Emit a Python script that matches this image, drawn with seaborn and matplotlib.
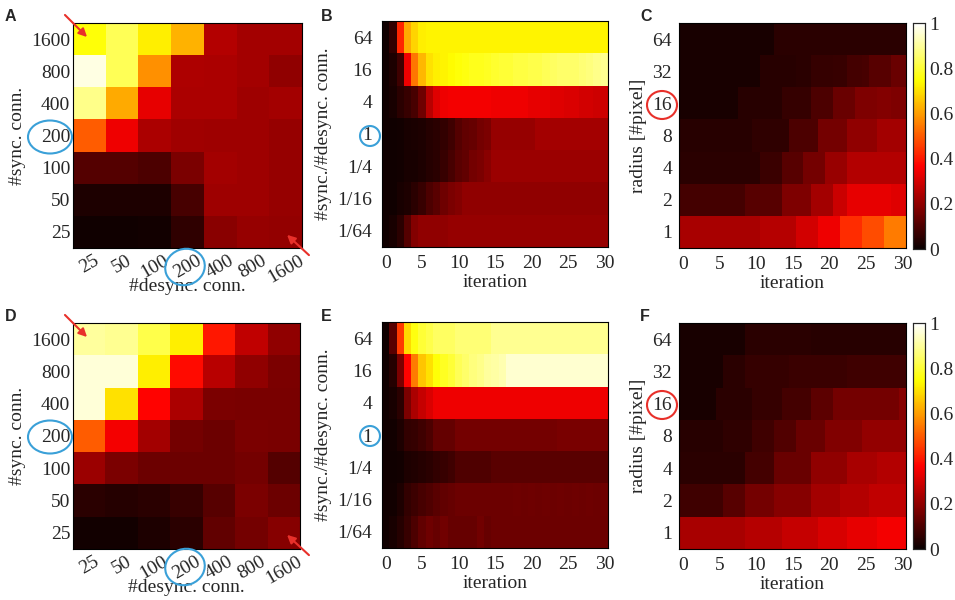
import numpy as np
import matplotlib
matplotlib.use('Agg')
import matplotlib.pyplot as plt
import seaborn as sns
from matplotlib.patches import Ellipse

sns.set_style('white')
plt.rcParams['font.family'] = ['Liberation Serif', 'DejaVu Serif']

# category labels
sync_conn = ['1600', '800', '400', '200', '100', '50', '25']
desync_conn = ['25', '50', '100', '200', '400', '800', '1600']
ratio_labels = ['64', '16', '4', '1', '1/4', '1/16', '1/64']
radius_labels = ['64', '32', '16', '8', '4', '2', '1']
iter_ticks = [0, 5, 10, 15, 20, 25, 30]

# panel A (rows: #sync 1600 -> 25, cols: #desync 25 -> 1600)
grid_a = [
    [0.75, 0.83, 0.72, 0.63, 0.25, 0.23, 0.23],
    [0.97, 0.83, 0.58, 0.245, 0.24, 0.23, 0.20],
    [0.88, 0.62, 0.33, 0.24, 0.24, 0.22, 0.23],
    [0.50, 0.34, 0.24, 0.225, 0.22, 0.22, 0.21],
    [0.11, 0.11, 0.10, 0.17, 0.23, 0.22, 0.21],
    [0.03, 0.03, 0.03, 0.09, 0.22, 0.22, 0.21],
    [0.01, 0.01, 0.015, 0.055, 0.19, 0.21, 0.205],
]

# panel D
grid_d = [
    [0.90, 0.89, 0.82, 0.72, 0.40, 0.27, 0.20],
    [0.96, 0.96, 0.72, 0.38, 0.26, 0.20, 0.17],
    [0.96, 0.70, 0.37, 0.24, 0.17, 0.165, 0.165],
    [0.50, 0.35, 0.23, 0.16, 0.145, 0.17, 0.165],
    [0.215, 0.17, 0.145, 0.145, 0.145, 0.16, 0.11],
    [0.05, 0.04, 0.05, 0.07, 0.115, 0.17, 0.145],
    [0.015, 0.015, 0.03, 0.05, 0.13, 0.16, 0.185],
]

# panel B (rows: ratio 64 -> 1/64, cols: iteration 0 -> 30)
b_64 = [0.01, 0.06, 0.42, 0.62, 0.68, 0.72, 0.73, 0.73, 0.73, 0.73, 0.73,
        0.73, 0.73, 0.73, 0.73, 0.73, 0.73, 0.73, 0.73, 0.73, 0.73,
        0.73, 0.73, 0.73, 0.73, 0.73, 0.73, 0.73, 0.73, 0.73, 0.73]
b_16 = [0.01, 0.03, 0.08, 0.34, 0.54, 0.64, 0.70, 0.72, 0.73, 0.74, 0.75,
        0.76, 0.77, 0.77, 0.78, 0.79, 0.80, 0.80, 0.81, 0.81, 0.82,
        0.82, 0.83, 0.84, 0.85, 0.85, 0.85, 0.86, 0.87, 0.88, 0.89]
b_4 = [0.01, 0.02, 0.05, 0.07, 0.09, 0.15, 0.26, 0.32, 0.34, 0.35, 0.35,
       0.35, 0.35, 0.35, 0.35, 0.34, 0.34, 0.34, 0.34, 0.34, 0.33,
       0.33, 0.33, 0.32, 0.32, 0.31, 0.31, 0.30, 0.30, 0.29, 0.29]
b_1 = [0.01, 0.01, 0.015, 0.02, 0.025, 0.03, 0.04, 0.05, 0.06, 0.08, 0.11,
       0.13, 0.14, 0.16, 0.17, 0.21, 0.21, 0.21, 0.21, 0.21, 0.21,
       0.23, 0.23, 0.23, 0.23, 0.23, 0.23, 0.23, 0.23, 0.23, 0.23]
b_q4 = [0.01, 0.01, 0.015, 0.02, 0.02, 0.03, 0.04, 0.05, 0.07, 0.09, 0.12,
        0.13, 0.16, 0.17, 0.19, 0.215, 0.215, 0.215, 0.215, 0.215, 0.215,
        0.215, 0.215, 0.215, 0.215, 0.215, 0.215, 0.215, 0.215, 0.215, 0.215]
b_q16 = [0.01, 0.01, 0.02, 0.03, 0.05, 0.07, 0.10, 0.12, 0.15, 0.17, 0.18,
         0.20, 0.20, 0.20, 0.20, 0.20, 0.20, 0.20, 0.20, 0.20, 0.20,
         0.20, 0.20, 0.20, 0.20, 0.20, 0.20, 0.20, 0.20, 0.20, 0.20]
b_q64 = [0.01, 0.02, 0.05, 0.11, 0.18, 0.20, 0.20, 0.20, 0.20, 0.21, 0.21,
         0.21, 0.21, 0.21, 0.21, 0.21, 0.21, 0.21, 0.21, 0.21, 0.21,
         0.21, 0.21, 0.21, 0.21, 0.21, 0.21, 0.21, 0.21, 0.21, 0.21]

# panel E
e_64 = [0.01, 0.12, 0.45, 0.69, 0.76, 0.80, 0.82, 0.84, 0.84, 0.84, 0.86,
        0.86, 0.86, 0.86, 0.86, 0.89, 0.89, 0.89, 0.89, 0.89, 0.89,
        0.89, 0.89, 0.89, 0.89, 0.89, 0.89, 0.89, 0.89, 0.89, 0.89]
e_16 = [0.01, 0.04, 0.17, 0.37, 0.55, 0.66, 0.70, 0.75, 0.78, 0.80, 0.83,
        0.85, 0.87, 0.88, 0.90, 0.91, 0.92, 0.95, 0.95, 0.95, 0.95,
        0.95, 0.95, 0.95, 0.95, 0.95, 0.95, 0.95, 0.95, 0.95, 0.95]
e_4 = [0.01, 0.02, 0.05, 0.17, 0.24, 0.28, 0.31, 0.34, 0.34, 0.34, 0.34,
       0.34, 0.34, 0.34, 0.34, 0.34, 0.34, 0.34, 0.34, 0.34, 0.34,
       0.34, 0.34, 0.34, 0.34, 0.34, 0.34, 0.34, 0.34, 0.34, 0.34]
e_1 = [0.01, 0.015, 0.03, 0.06, 0.065, 0.08, 0.10, 0.135, 0.135, 0.135, 0.16,
       0.16, 0.16, 0.16, 0.16, 0.16, 0.16, 0.16, 0.16, 0.16, 0.16,
       0.16, 0.16, 0.16, 0.165, 0.165, 0.165, 0.165, 0.165, 0.165, 0.165]
e_q4 = [0.01, 0.01, 0.015, 0.03, 0.035, 0.04, 0.05, 0.06, 0.07, 0.08, 0.105,
        0.105, 0.105, 0.105, 0.105, 0.12, 0.12, 0.12, 0.12, 0.12, 0.12,
        0.12, 0.12, 0.12, 0.12, 0.12, 0.12, 0.12, 0.12, 0.12, 0.12]
e_q16 = [0.01, 0.015, 0.03, 0.06, 0.075, 0.09, 0.105, 0.12, 0.13, 0.14, 0.145,
         0.145, 0.145, 0.145, 0.145, 0.145, 0.145, 0.145, 0.15, 0.145, 0.15,
         0.145, 0.15, 0.145, 0.15, 0.145, 0.15, 0.145, 0.15, 0.145, 0.15]
e_q64 = [0.01, 0.02, 0.04, 0.07, 0.10, 0.13, 0.15, 0.14, 0.155, 0.14, 0.14,
         0.14, 0.14, 0.155, 0.14, 0.145, 0.145, 0.145, 0.145, 0.145, 0.145,
         0.145, 0.145, 0.145, 0.145, 0.145, 0.145, 0.145, 0.145, 0.145, 0.145]

# panel C (rows: radius 64 -> 1)
c_64 = [0.02, 0.02, 0.02, 0.02, 0.02, 0.02, 0.02, 0.02, 0.02, 0.02, 0.02,
        0.02, 0.02, 0.05, 0.05, 0.05, 0.05, 0.05, 0.05, 0.05, 0.05,
        0.05, 0.05, 0.05, 0.05, 0.05, 0.05, 0.05, 0.05, 0.05, 0.05]
c_32 = [0.02, 0.02, 0.02, 0.02, 0.02, 0.02, 0.02, 0.02, 0.02, 0.02, 0.02,
        0.043, 0.043, 0.043, 0.043, 0.043, 0.05, 0.05, 0.064, 0.064, 0.064,
        0.07, 0.07, 0.086, 0.086, 0.09, 0.114, 0.114, 0.114, 0.143, 0.143]
c_16 = [0.02, 0.02, 0.02, 0.02, 0.02, 0.02, 0.02, 0.02, 0.043, 0.043, 0.043,
        0.043, 0.043, 0.043, 0.064, 0.064, 0.064, 0.064, 0.10, 0.10, 0.10,
        0.143, 0.143, 0.143, 0.175, 0.175, 0.175, 0.18, 0.18, 0.175, 0.175]
c_8 = [0.043, 0.043, 0.043, 0.043, 0.043, 0.043, 0.043, 0.043, 0.043, 0.043, 0.057,
       0.057, 0.057, 0.057, 0.057, 0.10, 0.10, 0.10, 0.10, 0.157, 0.157,
       0.157, 0.157, 0.20, 0.20, 0.20, 0.20, 0.229, 0.229, 0.229, 0.229]
c_4 = [0.05, 0.05, 0.05, 0.05, 0.05, 0.05, 0.05, 0.05, 0.05, 0.05, 0.05,
       0.072, 0.072, 0.072, 0.114, 0.114, 0.114, 0.157, 0.157, 0.157, 0.214,
       0.214, 0.214, 0.25, 0.25, 0.25, 0.25, 0.25, 0.25, 0.25, 0.25]
c_2 = [0.086, 0.086, 0.086, 0.086, 0.086, 0.086, 0.086, 0.086, 0.086, 0.114, 0.114,
       0.114, 0.114, 0.114, 0.172, 0.172, 0.172, 0.172, 0.229, 0.229, 0.229,
       0.286, 0.286, 0.33, 0.33, 0.33, 0.33, 0.33, 0.33, 0.32, 0.32]
c_1 = [0.236, 0.236, 0.236, 0.236, 0.236, 0.236, 0.236, 0.236, 0.236, 0.236, 0.236,
       0.257, 0.257, 0.257, 0.257, 0.257, 0.30, 0.30, 0.30, 0.34, 0.34,
       0.34, 0.43, 0.43, 0.43, 0.48, 0.48, 0.48, 0.55, 0.55, 0.55]

# panel F
f_64 = [0.02, 0.02, 0.02, 0.02, 0.02, 0.02, 0.02, 0.02, 0.02, 0.05, 0.05,
        0.05, 0.05, 0.05, 0.05, 0.05, 0.05, 0.05, 0.043, 0.043, 0.043,
        0.043, 0.043, 0.043, 0.043, 0.043, 0.043, 0.043, 0.043, 0.043, 0.043]
f_32 = [0.02, 0.02, 0.02, 0.02, 0.02, 0.02, 0.05, 0.05, 0.05, 0.064, 0.064,
        0.064, 0.064, 0.064, 0.064, 0.072, 0.072, 0.072, 0.072, 0.072, 0.072,
        0.072, 0.072, 0.079, 0.079, 0.079, 0.079, 0.079, 0.079, 0.079, 0.079]
f_16 = [0.02, 0.02, 0.02, 0.02, 0.02, 0.05, 0.05, 0.05, 0.05, 0.05, 0.064,
        0.064, 0.064, 0.064, 0.086, 0.086, 0.086, 0.086, 0.122, 0.122, 0.122,
        0.157, 0.157, 0.157, 0.157, 0.157, 0.157, 0.157, 0.157, 0.157, 0.186]
f_8 = [0.043, 0.043, 0.043, 0.043, 0.043, 0.043, 0.057, 0.057, 0.057, 0.057, 0.079,
       0.079, 0.079, 0.107, 0.107, 0.107, 0.143, 0.143, 0.143, 0.143, 0.179,
       0.179, 0.179, 0.179, 0.179, 0.207, 0.207, 0.207, 0.207, 0.207, 0.207]
f_4 = [0.05, 0.05, 0.05, 0.05, 0.05, 0.05, 0.05, 0.05, 0.05, 0.086, 0.086,
       0.086, 0.086, 0.143, 0.143, 0.143, 0.143, 0.143, 0.20, 0.20, 0.20,
       0.20, 0.20, 0.236, 0.236, 0.236, 0.236, 0.25, 0.25, 0.25, 0.25]
f_2 = [0.079, 0.079, 0.079, 0.079, 0.079, 0.079, 0.114, 0.114, 0.114, 0.157, 0.157,
       0.157, 0.157, 0.186, 0.186, 0.186, 0.186, 0.186, 0.229, 0.229, 0.229,
       0.229, 0.25, 0.25, 0.25, 0.25, 0.272, 0.272, 0.272, 0.272, 0.272]
f_1 = [0.236, 0.236, 0.236, 0.236, 0.236, 0.236, 0.236, 0.236, 0.236, 0.257, 0.257,
       0.257, 0.257, 0.257, 0.279, 0.279, 0.279, 0.279, 0.279, 0.307, 0.307,
       0.307, 0.307, 0.33, 0.33, 0.33, 0.33, 0.35, 0.35, 0.35, 0.35]

grid_b = [b_64, b_16, b_4, b_1, b_q4, b_q16, b_q64]
grid_e = [e_64, e_16, e_4, e_1, e_q4, e_q16, e_q64]
grid_c = [c_64, c_32, c_16, c_8, c_4, c_2, c_1]
grid_f = [f_64, f_32, f_16, f_8, f_4, f_2, f_1]

W, H = 955, 600
fig = plt.figure(figsize=(9.55, 6.0), dpi=100)


def box(x0, y0, x1, y1):
    """pixel box -> figure fraction"""
    return [x0 / W, 1 - y1 / H, (x1 - x0) / W, (y1 - y0) / H]


FS = 14


def style_axes(ax, ypad):
    for sp in ax.spines.values():
        sp.set_visible(True)
        sp.set_color('black')
        sp.set_linewidth(0.8)
    ax.tick_params(direction='in', length=3, width=0.6, top=True, right=True,
                   labelsize=FS)
    ax.tick_params(axis='x', pad=6)
    ax.tick_params(axis='y', pad=ypad)


def draw_square(ax, data, ylab):
    sns.heatmap(np.array(data), ax=ax, cmap='hot', vmin=0, vmax=1, cbar=False,
                xticklabels=False, yticklabels=False)
    style_axes(ax, 2)
    ax.set_xticks(np.arange(len(desync_conn)) + 0.5)
    ax.set_xticklabels(desync_conn, rotation=30, ha='center', va='top')
    ax.tick_params(axis='x', pad=3)
    ax.set_yticks(np.arange(len(ylab)) + 0.5)
    ax.set_yticklabels(ylab, rotation=0)
    ax.set_xlabel('#desync. conn.', fontsize=FS, labelpad=-6)
    ax.set_ylabel('#sync. conn.', fontsize=FS, labelpad=4)


def draw_iter(ax, data, ylab, ylabel, ypad, cax=None):
    sns.heatmap(np.array(data), ax=ax, cmap='hot', vmin=0, vmax=1,
                cbar=cax is not None, cbar_ax=cax,
                xticklabels=False, yticklabels=False)
    style_axes(ax, ypad)
    ax.set_xticks(np.array(iter_ticks) + 0.5)
    ax.set_xticklabels([str(t) for t in iter_ticks], rotation=0)
    ax.set_yticks(np.arange(len(ylab)) + 0.5)
    ax.set_yticklabels(ylab, rotation=0)
    ax.set_xlabel('iteration', fontsize=FS, labelpad=1)
    ax.set_ylabel(ylabel, fontsize=FS, labelpad=4)
    if cax is not None:
        cax.set_yticks([0, 0.2, 0.4, 0.6, 0.8, 1.0])
        cax.set_yticklabels(['0', '0.2', '0.4', '0.6', '0.8', '1'])
        cax.tick_params(direction='in', length=3, width=0.6, labelsize=FS,
                        left=True, right=True, pad=3)
        for sp in cax.spines.values():
            sp.set_visible(True)
            sp.set_linewidth(0.8)


ax_a = fig.add_axes(box(73, 23, 302, 248))
ax_b = fig.add_axes(box(382, 21, 608, 247))
ax_c = fig.add_axes(box(679, 23, 906, 248))
cax_c = fig.add_axes(box(913, 23, 925, 249))
ax_d = fig.add_axes(box(73, 323, 300, 549))
ax_e = fig.add_axes(box(382, 322, 608, 548))
ax_f = fig.add_axes(box(679, 323, 906, 549))
cax_f = fig.add_axes(box(913, 323, 925, 549))

draw_square(ax_a, grid_a, sync_conn)
draw_square(ax_d, grid_d, sync_conn)
draw_iter(ax_b, grid_b, ratio_labels, '#sync./#desync. conn.', 7)
draw_iter(ax_e, grid_e, ratio_labels, '#sync./#desync. conn.', 7)
draw_iter(ax_c, grid_c, radius_labels, 'radius [#pixel]', 5, cax=cax_c)
draw_iter(ax_f, grid_f, radius_labels, 'radius [#pixel]', 5, cax=cax_f)

# overlay in pixel coordinates for letters, arrows and circles
ov = fig.add_axes([0, 0, 1, 1], zorder=10)
ov.set_xlim(0, W)
ov.set_ylim(H, 0)
ov.axis('off')
ov.patch.set_alpha(0)

for lab, (px, py) in zip('ABCDEF', [(5, 21), (321, 21), (640, 21),
                                    (5, 321), (321, 321), (640, 321)]):
    ov.text(px, py, lab, family=['Liberation Sans', 'DejaVu Sans'],
            fontweight='bold', fontsize=11.5, va='baseline', ha='left')

red = '#e8302a'
blue = '#3aa0d8'
for dy in [0, 300]:
    ov.annotate('', xy=(89, 39 + dy), xytext=(63, 13 + dy),
                arrowprops=dict(arrowstyle='-|>', color=red, lw=1.5, mutation_scale=12))
    ov.annotate('', xy=(285, 233 + dy), xytext=(311, 257 + dy),
                arrowprops=dict(arrowstyle='-|>', color=red, lw=1.5, mutation_scale=12))
    ov.add_patch(Ellipse((50, 137 + dy), 44, 33, fill=False, ec=blue, lw=1.5))
    ov.add_patch(Ellipse((185, 267 + dy), 40, 36, angle=-20, fill=False, ec=blue, lw=1.5))
    ov.add_patch(Ellipse((370, 136 + dy), 20, 20, fill=False, ec=blue, lw=1.5))
    ov.add_patch(Ellipse((662, 105 + dy), 30, 28, fill=False, ec=red, lw=1.5))

fig.savefig('out.png', dpi=100)
